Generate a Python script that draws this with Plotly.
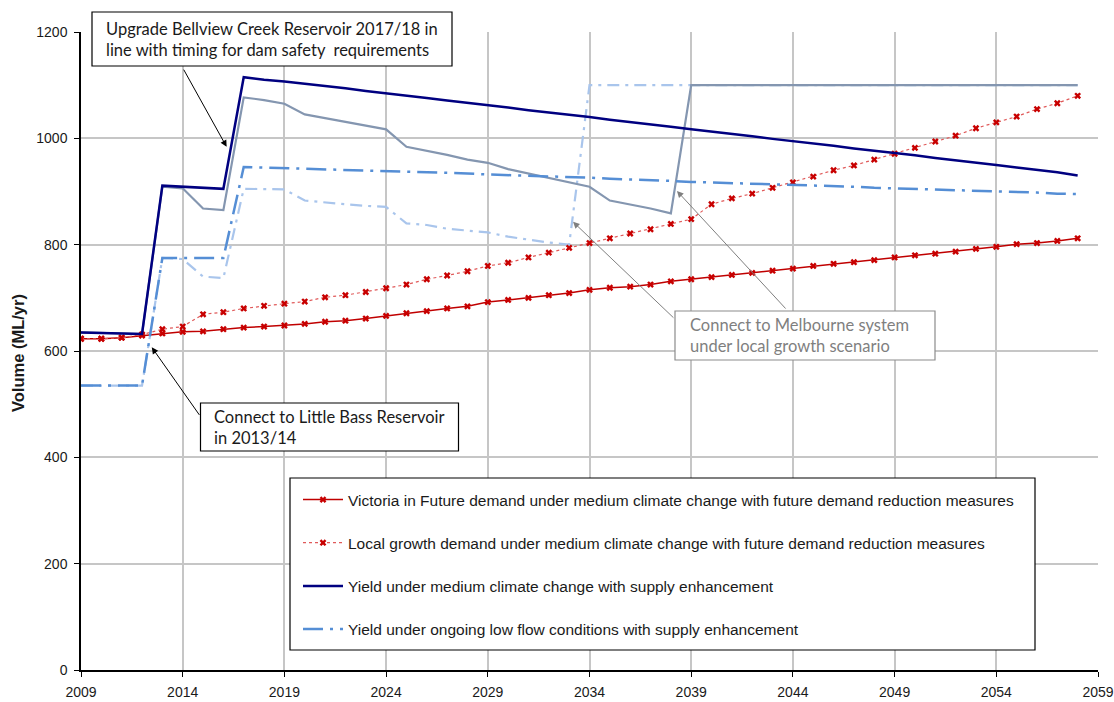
import plotly.graph_objects as go

# ---- data -------------------------------------------------------------
years = list(range(2009, 2059))

vif_demand = [623, 623, 625, 629, 633, 636, 637, 641, 644, 646,
              648, 651, 655, 657, 661, 666, 671, 675, 680, 684,
              692, 696, 700, 705, 709, 715, 719, 721, 725, 731,
              735, 739, 743, 747, 751, 755, 760, 764, 767, 771,
              776, 780, 783, 787, 792, 796, 801, 803, 807, 812]

local_demand = [623, 623, 625, 631, 641, 646, 669, 673, 680, 685,
                689, 693, 701, 705, 711, 718, 725, 735, 742, 750,
                760, 766, 776, 785, 794, 803, 812, 821, 829, 839,
                848, 876, 887, 896, 907, 917, 928, 940, 949, 960,
                971, 982, 994, 1005, 1019, 1030, 1041, 1055, 1066, 1080]

yield_medium = [635, 634, 633, 632, 911, 909, 907, 905, 1115, 1110,
                1107, 1103, 1098, 1094, 1089, 1085, 1080, 1076, 1071, 1067,
                1062, 1058, 1053, 1049, 1044, 1040, 1035, 1031, 1026, 1022,
                1017, 1013, 1008, 1004, 999, 995, 990, 986, 981, 977,
                972, 968, 963, 959, 954, 950, 945, 941, 936, 930]

yield_medium_local = [635, 634, 633, 632, 909, 906, 868, 865, 1077, 1072,
                      1065, 1045, 1038, 1031, 1024, 1017, 984, 977, 969, 960,
                      954, 942, 934, 925, 917, 909, 883, 876, 868, 859,
                      1100, 1100, 1100, 1100, 1100, 1100, 1100, 1100, 1100, 1100,
                      1100, 1100, 1100, 1100, 1100, 1100, 1100, 1100, 1100, 1100]

yield_lowflow = [535, 535, 535, 535, 775, 775, 775, 775, 946, 945,
                 944, 943, 942, 941, 940, 939, 938, 936, 935, 934,
                 932, 931, 930, 928, 927, 926, 924, 923, 921, 920,
                 918, 917, 916, 915, 913, 912, 911, 910, 909, 907,
                 906, 905, 904, 903, 901, 900, 899, 898, 896, 895]

yield_lowflow_local = [535, 535, 535, 535, 775, 773, 740, 737, 905, 905,
                       904, 883, 879, 876, 873, 871, 840, 837, 830, 826,
                       823, 815, 809, 804, 800, 1100, 1100, 1100, 1100, 1100,
                       1100, 1100, 1100, 1100, 1100, 1100, 1100, 1100, 1100, 1100,
                       1100, 1100, 1100, 1100, 1100, 1100, 1100, 1100, 1100, 1100]

legend_names = [
    "Victoria in Future demand under medium climate change with future demand reduction measures",
    "Local growth demand under medium climate change with future demand reduction measures",
    "Yield under medium climate change with supply enhancement",
    "Yield under ongoing low flow conditions with supply enhancement",
]

x_ticks = list(range(2009, 2060, 5))
y_ticks = list(range(0, 1201, 200))

# ---- geometry helpers (pixel -> paper) --------------------------------
W, H = 1114, 702
L, R, T, B = 81, 16, 32, 32
PW, PH = W - L - R, H - T - B


def px(xp):
    return (xp - L) / PW


def py(yp):
    return (H - B - yp) / PH


fig = go.Figure()

# unlabelled local-growth supply paths (drawn underneath)
fig.add_trace(go.Scatter(
    x=years, y=yield_lowflow_local, mode="lines", showlegend=False,
    line=dict(color="#a9c5ec", width=2.2, dash="12px,6px,3px,6px"),
    hoverinfo="skip"))
fig.add_trace(go.Scatter(
    x=years, y=yield_medium_local, mode="lines", showlegend=False,
    line=dict(color="#8496b0", width=2.2), hoverinfo="skip"))

# legend series
fig.add_trace(go.Scatter(
    x=years, y=vif_demand, mode="lines+markers", name=legend_names[0],
    legendgroup="a",
    line=dict(color="#c00000", width=1.5),
    marker=dict(symbol="x", size=6, color="#c80000")))
fig.add_trace(go.Scatter(
    x=years, y=local_demand, mode="lines+markers", name=legend_names[1],
    legendgroup="b",
    line=dict(color="#e05a5a", width=1.2, dash="dot"),
    marker=dict(symbol="x", size=6, color="#c80000")))
fig.add_trace(go.Scatter(
    x=years, y=yield_medium, mode="lines", name=legend_names[2],
    legendgroup="c",
    line=dict(color="#000080", width=2.5)))
fig.add_trace(go.Scatter(
    x=years, y=yield_lowflow, mode="lines", name=legend_names[3],
    legendgroup="d",
    line=dict(color="#558ed5", width=2.5, dash="20px,7px,3px,7px")))

axis_common = dict(
    showgrid=True, gridcolor="#c6c6c6", gridwidth=1.5,
    showline=True, linecolor="#000000", linewidth=1.5,
    ticks="outside", ticklen=5, tickcolor="#000000", tickwidth=1.2,
    zeroline=False, automargin=False,
    tickfont=dict(family="Liberation Sans, Arial, sans-serif", size=14, color="#1a1a1a"),
)

fig.update_xaxes(range=[2009, 2059], tickvals=x_ticks, ticklabelstandoff=3, **axis_common)
fig.update_yaxes(range=[0, 1200], tickvals=y_ticks, ticklabelstandoff=4, **axis_common)

shapes = []
annotations = []

# legend frame
shapes.append(dict(type="rect", xref="paper", yref="paper",
                   x0=px(290), x1=px(1035), y0=py(650), y1=py(478),
                   line=dict(color="#000000", width=1.2), fillcolor="#ffffff",
                   layer="above"))

note_font = dict(family="Lato, Liberation Sans, sans-serif", size=16.5, color="#1a1a1a")
grey_font = dict(family="Lato, Liberation Sans, sans-serif", size=16.5, color="#7f7f7f")

# note boxes: (x0, y0, x1, y1) in px, text left edge, text, font, border colour
notes = [
    ((92, 12, 452, 66), 104, "Upgrade Bellview Creek Reservoir 2017/18 in<br>line with timing for dam safety  requirements",
     note_font, "#000000"),
    ((200.5, 403, 458.5, 451), 212, "Connect to Little Bass Reservoir<br>in 2013/14", note_font, "#000000"),
    ((675, 311, 935, 360), 688, "Connect to Melbourne system<br>under local growth scenario", grey_font, "#8c8c8c"),
]
for (x0, y0, x1, y1), tx0, txt, fnt, col in notes:
    shapes.append(dict(type="rect", xref="paper", yref="paper",
                       x0=px(x0), x1=px(x1), y0=py(y1), y1=py(y0),
                       line=dict(color=col, width=1.2), fillcolor="#ffffff",
                       layer="above"))
    annotations.append(dict(xref="paper", yref="paper", x=px(tx0),
                            y=py((y0 + y1) / 2), xanchor="left", yanchor="middle",
                            text=txt, showarrow=False, align="left", font=fnt))

# leader arrows: (head year, head value, tail year, tail value, colour)
arrows = [
    (2016.16, 984, 2014.01, 1132, "#000000"),
    (2012.48, 607, 2014.87, 477, "#000000"),
    (2033.19, 843, 2038.20, 660, "#7f7f7f"),
    (2038.30, 901, 2043.71, 677, "#7f7f7f"),
]
for hx, hy, tx, ty, col in arrows:
    annotations.append(dict(x=hx, y=hy, ax=tx, ay=ty, xref="x", yref="y",
                            axref="x", ayref="y", text="", showarrow=True,
                            arrowhead=2, arrowsize=1.3, arrowwidth=1,
                            arrowcolor=col))

# y-axis title
annotations.append(dict(xref="paper", yref="paper", x=px(18), y=py(353),
                        text="<b>Volume (ML/yr)</b>", textangle=-90, showarrow=False,
                        xanchor="center", yanchor="middle",
                        font=dict(family="Liberation Sans, Arial, sans-serif", size=16.5,
                                  color="#1a1a1a")))

fig.update_layout(
    width=W, height=H,
    margin=dict(l=L, r=R, t=T, b=B, autoexpand=False),
    paper_bgcolor="#ffffff", plot_bgcolor="#ffffff",
    shapes=shapes, annotations=annotations,
    showlegend=True,
    legend=dict(
        x=px(298), y=py(483), xanchor="left", yanchor="top",
        bgcolor="rgba(0,0,0,0)", borderwidth=0,
        traceorder="grouped", tracegroupgap=20,
        font=dict(family="Liberation Sans, Arial, sans-serif",
                  size=15.5, color="#1a1a1a"),
        itemwidth=40,
    ),
)

fig.write_html("out.html")
